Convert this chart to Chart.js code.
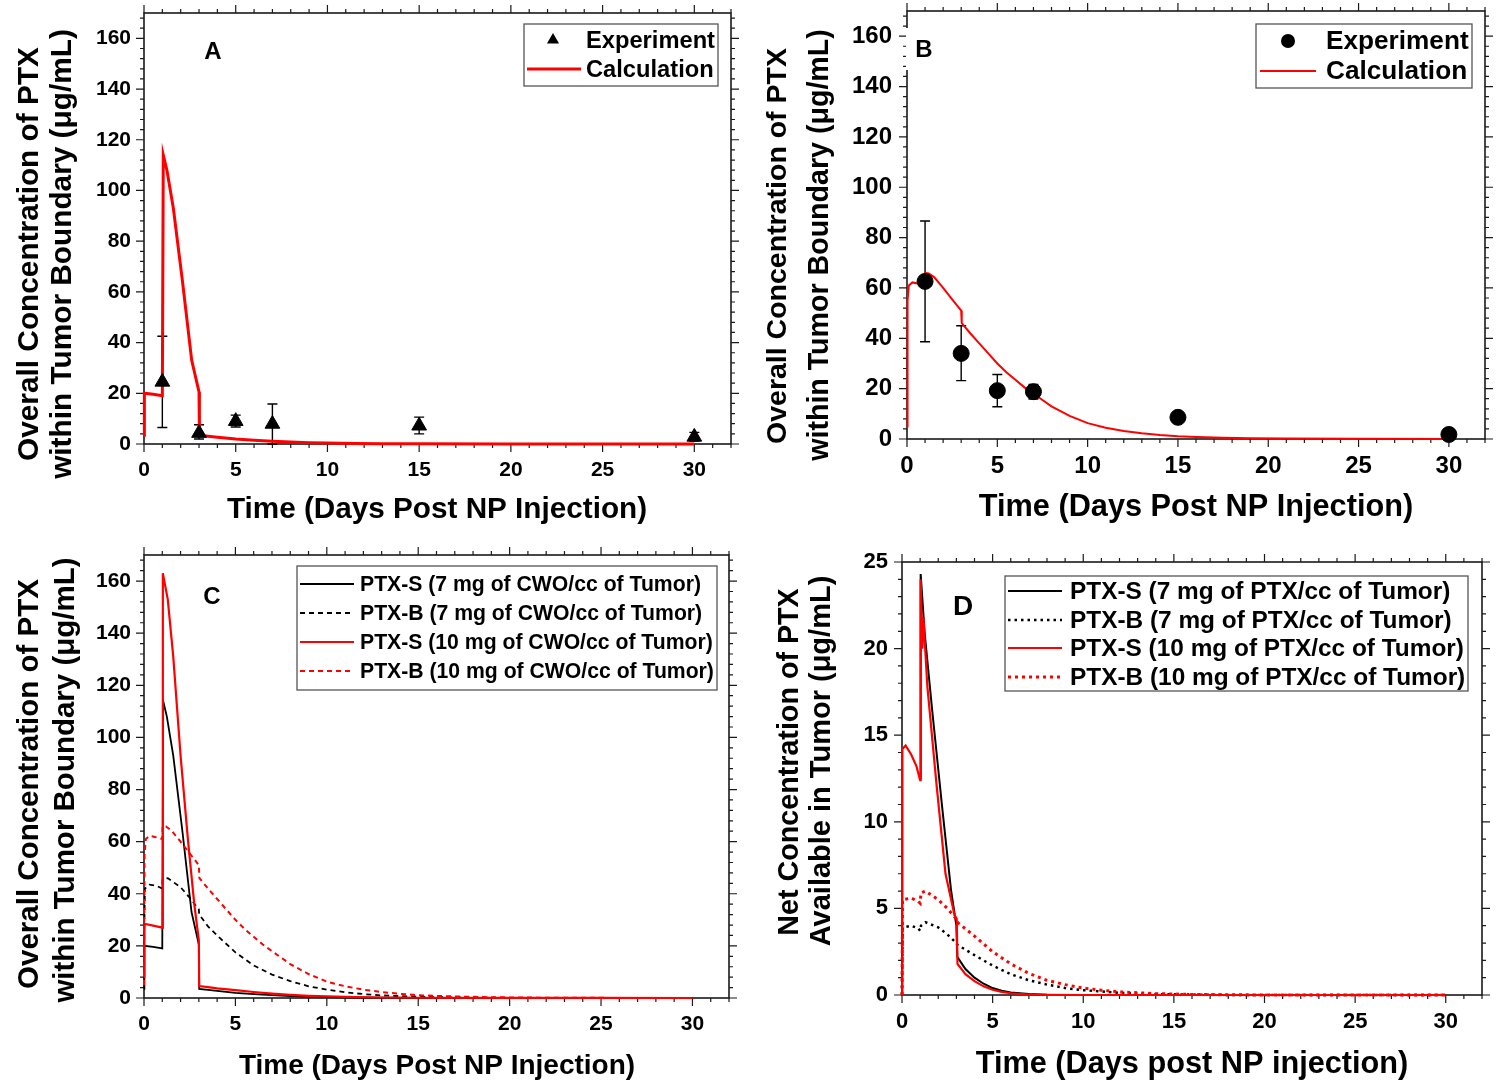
<!DOCTYPE html>
<html lang="en">

<head>
    <meta charset="UTF-8">
    <title>PTX concentration in tumor</title>
    <script src="https://cdn.jsdelivr.net/npm/chart.js"></script>
    <style>
        body { margin: 0; background: #fff; width: 1500px; height: 1088px; position: relative; overflow: hidden; }
        .panel { position: absolute; }
    </style>
</head>

<body>
    <div class="panel" style="left:0;top:0"><canvas id="chartA" width="750" height="540"></canvas></div>
    <div class="panel" style="left:750px;top:0"><canvas id="chartB" width="750" height="540"></canvas></div>
    <div class="panel" style="left:0;top:540px"><canvas id="chartC" width="750" height="548"></canvas></div>
    <div class="panel" style="left:750px;top:540px"><canvas id="chartD" width="750" height="548"></canvas></div>
    <script>
        const FONT = '"Liberation Sans", Arial, Helvetica, sans-serif';

        // measured points (days post injection)
        const expDays = [1, 3, 5, 7, 15, 30];

        // panel A - triangles with error bar ends
        const expA = [24.5, 4.3, 9.0, 7.9, 7.2, 2.8];
        const expALow = [6.5, 2.0, 6.7, 0.0, 4.0, 1.2];
        const expAHigh = [42.5, 7.6, 11.4, 15.8, 10.6, 4.6];

        // panel B - circles with error bar ends
        const expB = [62.6, 34.0, 19.2, 18.8, 8.6, 1.8];
        const expBLow = [38.6, 23.2, 12.8, 15.9, null, null];
        const expBHigh = [86.6, 45.0, 25.6, 21.7, null, null];

        // PTX-S, 7 mg CWO/cc (A calculation, C black solid)
        const ptxS7Days = [0, 0.02, 0.5, 1.0, 1.05, 1.25, 1.6, 2.1, 2.6, 3.0, 3.02, 3.5, 4, 5, 6, 7, 8, 9, 10, 11.5, 13, 15, 20, 25, 30];
        const ptxS7Conc = [3.5, 20, 19.6, 19, 114, 108, 93, 64, 33, 20.5, 3.5, 3.1, 2.7, 2.0, 1.5, 1.1, 0.75, 0.5, 0.35, 0.2, 0.12, 0.06, 0.02, 0.01, 0];

        // PTX-S, 10 mg CWO/cc (C red solid)
        const ptxS10Days = [0, 0.02, 0.5, 1.0, 1.03, 1.3, 1.6, 2.0, 2.4, 2.75, 3.0, 3.02, 3.5, 4, 5, 6, 7, 8, 9, 10, 11.5, 13, 15, 20, 25, 30];
        const ptxS10Conc = [8, 28.5, 27.8, 27, 163, 153, 131, 93, 61, 36, 22, 4.6, 4.2, 3.7, 3.0, 2.3, 1.7, 1.2, 0.85, 0.6, 0.35, 0.2, 0.1, 0.03, 0.01, 0];

        // PTX-B, 7 mg CWO/cc (C black dashed)
        const ptxB7Days = [0, 0.05, 0.3, 0.7, 1.0, 1.02, 1.3, 2.0, 2.5, 3.0, 3.02, 3.5, 4, 5, 6, 7, 8, 9, 10, 11, 12, 13, 15, 17, 20, 25, 30];
        const ptxB7Conc = [20, 42, 43.5, 43, 42, 45.5, 46, 42.5, 38.5, 34, 32, 27.5, 24, 17.5, 12.5, 9, 6.5, 4.5, 3.2, 2.2, 1.5, 1.0, 0.5, 0.2, 0.05, 0.01, 0];

        // PTX-B, 10 mg CWO/cc (B calculation, C red dashed)
        const ptxB10Days = [0, 0.03, 0.1, 0.3, 0.6, 1.0, 1.02, 1.2, 1.5, 2.0, 2.5, 3.0, 3.03, 3.5, 4, 4.5, 5, 5.5, 6, 6.5, 7, 7.5, 8, 9, 10, 11, 12, 13, 14, 15, 16, 17.5, 19, 21, 25, 30];
        const ptxB10Conc = [5, 55, 61, 62.2, 61.8, 61, 66, 65.8, 64.3, 60, 55.5, 51, 46, 42, 38, 34, 30, 26.5, 23.5, 20.5, 18, 15.5, 13, 9.2, 6.3, 4.5, 3.2, 2.3, 1.6, 1.1, 0.8, 0.5, 0.3, 0.15, 0.05, 0];

        // panel D - net concentration available in tumor
        const netS7Days = [1.0, 1.03, 1.25, 1.65, 2.2, 2.7, 3.0, 3.05, 3.5, 4, 4.5, 5, 5.5, 6, 7, 8, 10, 15, 20, 30];
        const netS7Conc = [12.5, 24.3, 20.9, 16.6, 11.0, 6.1, 4.0, 2.2, 1.5, 1.0, 0.65, 0.4, 0.25, 0.15, 0.06, 0.02, 0, 0, 0, 0];

        const netS10Days = [0, 0.02, 0.2, 0.5, 0.8, 1.0, 1.03, 1.12, 1.18, 1.4, 1.9, 2.4, 2.9, 3.02, 3.06, 3.5, 4, 4.5, 5, 5.5, 6, 7, 8, 10, 15, 20, 30];
        const netS10Conc = [0, 14.2, 14.4, 13.9, 13.2, 12.4, 24.0, 20.0, 21.8, 17.8, 12.2, 7.0, 4.6, 4.4, 1.8, 1.2, 0.8, 0.5, 0.3, 0.18, 0.1, 0.03, 0.01, 0, 0, 0, 0];

        const netB7Days = [0, 0.03, 0.5, 0.9, 1.0, 1.05, 1.3, 2.0, 2.5, 3.0, 3.05, 4, 5, 6, 7, 8, 9, 10, 11, 12, 14, 17, 20, 30];
        const netB7Conc = [0, 3.9, 4.0, 3.85, 3.7, 4.0, 4.2, 3.9, 3.5, 3.0, 2.9, 2.3, 1.7, 1.2, 0.85, 0.6, 0.4, 0.28, 0.2, 0.12, 0.05, 0.01, 0, 0];

        const netB10Days = [0, 0.03, 0.5, 0.9, 1.0, 1.05, 1.3, 2.0, 2.5, 3.0, 3.05, 4, 5, 6, 7, 8, 9, 10, 11, 12, 14, 16, 20, 30];
        const netB10Conc = [0, 5.5, 5.6, 5.4, 5.3, 5.9, 6.0, 5.5, 5.0, 4.4, 4.2, 3.4, 2.5, 1.8, 1.25, 0.85, 0.6, 0.4, 0.28, 0.18, 0.08, 0.03, 0, 0];

        // decoration for each panel: frame ticks, titles, letter, legend box
        const deco = {
            chartA: {
                xMinor: 1, xMajor: 5, yMinor: 4, yMajor: 20,
                letter: { text: 'A', x: 213, y: 52, size: 24 },
                yTitle: [
                    { text: 'Overall Concentration of PTX', x: 30, y: 254, size: 29.8 },
                    { text: 'within Tumor Boundary (μg/mL)', x: 63, y: 254, size: 29.8 }
                ],
                xTitle: { text: 'Time (Days Post NP Injection)', x: 437, y: 510, size: 29.7 },
                legend: {
                    box: [524, 24, 718, 86], size: 23.7, textX: 586,
                    rows: [{ ds: 0, y: 40, marker: 'triangle', mx: 553, r: 7 }, { ds: 1, y: 69, x1: 527, x2: 581 }]
                }
            },
            chartB: {
                xMinor: 1, xMajor: 5, yMinor: 4, yMajor: 20,
                letter: { text: 'B', x: 174, y: 50, size: 24, clearAxis: true },
                yTitle: [
                    { text: 'Overall Concentration of PTX', x: 28, y: 246, size: 28.5 },
                    { text: 'within Tumor Boundary (μg/mL)', x: 70, y: 245, size: 28.6 }
                ],
                xTitle: { text: 'Time (Days Post NP Injection)', x: 446, y: 508, size: 30.7 },
                legend: {
                    box: [506, 24, 722, 88], size: 26.2, textX: 576,
                    rows: [{ ds: 0, y: 41, marker: 'circle', mx: 538, r: 7 }, { ds: 1, y: 71, x1: 510, x2: 566 }]
                }
            },
            chartC: {
                xMinor: 1, xMajor: 5, yMinor: 4, yMajor: 20,
                letter: { text: 'C', x: 212, y: 57, size: 24 },
                yTitle: [
                    { text: 'Overall Concentration of PTX', x: 30, y: 244, size: 29.5 },
                    { text: 'within Tumor Boundary (μg/mL)', x: 66, y: 240, size: 29.5 }
                ],
                xTitle: { text: 'Time (Days Post NP Injection)', x: 437, y: 526, size: 28 },
                legend: {
                    box: [297, 26, 717, 150], size: 21.2, textX: 360,
                    rows: [
                        { ds: 3, y: 44, x1: 300, x2: 354 },
                        { ds: 2, y: 73, x1: 300, x2: 354 },
                        { ds: 1, y: 102, x1: 300, x2: 354 },
                        { ds: 0, y: 131, x1: 300, x2: 354 }
                    ]
                }
            },
            chartD: {
                xMinor: 1, xMajor: 5, yMinor: 1, yMajor: 5,
                letter: { text: 'D', x: 213, y: 67, size: 28 },
                yTitle: [
                    { text: 'Net Concentration of PTX', x: 40, y: 222, size: 28.7 },
                    { text: 'Available in Tumor (μg/mL)', x: 72, y: 221, size: 29 }
                ],
                xTitle: { text: 'Time (Days post NP injection)', x: 442, y: 525, size: 30.7 },
                legend: {
                    box: [255, 36, 718, 151], size: 24.4, textX: 320,
                    rows: [
                        { ds: 3, y: 51, x1: 258, x2: 312 },
                        { ds: 2, y: 80, x1: 258, x2: 312 },
                        { ds: 1, y: 108, x1: 258, x2: 312 },
                        { ds: 0, y: 137, x1: 258, x2: 312 }
                    ]
                }
            }
        };

        function markerPath(ctx, style, x, y, r) {
            ctx.beginPath();
            if (style === 'triangle') {
                let rad = 0;
                ctx.moveTo(x + Math.sin(rad) * r, y - Math.cos(rad) * r);
                rad += Math.PI * 2 / 3;
                ctx.lineTo(x + Math.sin(rad) * r, y - Math.cos(rad) * r);
                rad += Math.PI * 2 / 3;
                ctx.lineTo(x + Math.sin(rad) * r, y - Math.cos(rad) * r);
                ctx.closePath();
            } else {
                ctx.arc(x, y, r, 0, Math.PI * 2);
            }
        }

        function drawFrame(chart, d) {
            const { ctx, chartArea: a, scales: { x, y } } = chart;
            ctx.save();
            ctx.strokeStyle = '#1a1a1a';
            ctx.lineWidth = 1.6;
            ctx.strokeRect(a.left, a.top, a.right - a.left, a.bottom - a.top);
            ctx.lineWidth = 1.2;
            ctx.beginPath();
            for (let i = 0; i * d.xMinor <= x.max + 1e-9; i++) {
                const v = i * d.xMinor;
                const px = x.getPixelForValue(v);
                const len = v % d.xMajor === 0 ? 8 : 4;
                ctx.moveTo(px, a.bottom); ctx.lineTo(px, a.bottom + len);
                ctx.moveTo(px, a.top); ctx.lineTo(px, a.top - len);
            }
            for (let i = 0; i * d.yMinor <= y.max + 1e-9; i++) {
                const v = i * d.yMinor;
                const py = y.getPixelForValue(v);
                const len = v % d.yMajor === 0 ? 8 : 4;
                ctx.moveTo(a.left, py); ctx.lineTo(a.left - len, py);
                ctx.moveTo(a.right, py); ctx.lineTo(a.right + len, py);
            }
            ctx.stroke();
            ctx.restore();
        }

        function drawErrorBars(chart) {
            const { ctx, scales: { x, y } } = chart;
            chart.data.datasets.forEach(ds => {
                if (!ds.errLow) return;
                ctx.save();
                ctx.strokeStyle = '#000';
                ctx.lineWidth = 1.4;
                ctx.beginPath();
                ds.data.forEach((pt, j) => {
                    if (ds.errLow[j] == null) return;
                    const px = x.getPixelForValue(pt.x);
                    const lo = y.getPixelForValue(ds.errLow[j]);
                    const hi = y.getPixelForValue(ds.errHigh[j]);
                    ctx.moveTo(px, lo); ctx.lineTo(px, hi);
                    ctx.moveTo(px - 5, lo); ctx.lineTo(px + 5, lo);
                    ctx.moveTo(px - 5, hi); ctx.lineTo(px + 5, hi);
                });
                ctx.stroke();
                ctx.restore();
            });
        }

        function drawLetter(chart, l) {
            const ctx = chart.ctx;
            ctx.save();
            ctx.font = `bold ${l.size}px ${FONT}`;
            if (l.clearAxis) {
                // the figure has a white patch over the left axis behind the letter
                ctx.fillStyle = '#fff';
                ctx.fillRect(chart.chartArea.left - 1, l.y - 22, 36, 42);
            }
            ctx.fillStyle = '#000';
            ctx.textAlign = 'center';
            ctx.textBaseline = 'middle';
            ctx.fillText(l.text, l.x, l.y);
            ctx.restore();
        }

        function drawTitles(chart, d) {
            const ctx = chart.ctx;
            ctx.save();
            ctx.fillStyle = '#000';
            ctx.textAlign = 'center';
            ctx.textBaseline = 'middle';
            d.yTitle.forEach(t => {
                ctx.save();
                ctx.font = `bold ${t.size}px ${FONT}`;
                ctx.translate(t.x, t.y);
                ctx.rotate(-Math.PI / 2);
                ctx.fillText(t.text, 0, 0);
                ctx.restore();
            });
            ctx.font = `bold ${d.xTitle.size}px ${FONT}`;
            ctx.fillText(d.xTitle.text, d.xTitle.x, d.xTitle.y);
            ctx.restore();
        }

        function drawLegend(chart, lg) {
            const ctx = chart.ctx;
            const [x1, y1, x2, y2] = lg.box;
            ctx.save();
            ctx.fillStyle = '#fff';
            ctx.fillRect(x1, y1, x2 - x1, y2 - y1);
            ctx.strokeStyle = '#555';
            ctx.lineWidth = 1.3;
            ctx.strokeRect(x1, y1, x2 - x1, y2 - y1);
            lg.rows.forEach(row => {
                const ds = chart.data.datasets[row.ds];
                if (row.marker) {
                    markerPath(ctx, row.marker, row.mx, row.y, row.r);
                    ctx.fillStyle = '#000';
                    ctx.fill();
                } else {
                    ctx.save();
                    ctx.strokeStyle = ds.borderColor;
                    ctx.lineWidth = ds.borderWidth;
                    ctx.setLineDash(ds.borderDash || []);
                    ctx.beginPath();
                    ctx.moveTo(row.x1, row.y);
                    ctx.lineTo(row.x2, row.y);
                    ctx.stroke();
                    ctx.restore();
                }
                ctx.fillStyle = '#000';
                ctx.font = `bold ${lg.size}px ${FONT}`;
                ctx.textAlign = 'left';
                ctx.textBaseline = 'middle';
                ctx.fillText(ds.label, lg.textX, row.y + 1);
            });
            ctx.restore();
        }

        const decoPlugin = {
            id: 'panelDeco',
            beforeDatasetsDraw(chart) {
                const d = deco[chart.canvas.id];
                drawFrame(chart, d);
                drawLetter(chart, d.letter);
                drawErrorBars(chart);
            },
            afterDraw(chart) {
                const d = deco[chart.canvas.id];
                drawTitles(chart, d);
                drawLegend(chart, d.legend);
            }
        };

        function curve(label, days, conc, color, width, dash) {
            return {
                label: label,
                data: days.map((d, i) => ({ x: d, y: conc[i] })),
                showLine: true,
                borderColor: color,
                borderWidth: width,
                borderDash: dash || [],
                pointRadius: 0,
                tension: 0,
                clip: false
            };
        }

        function points(label, days, conc, low, high, style, radius) {
            return {
                label: label,
                data: days.map((d, i) => ({ x: d, y: conc[i] })),
                errLow: low,
                errHigh: high,
                showLine: false,
                pointStyle: style,
                pointRadius: radius,
                pointBackgroundColor: '#000',
                pointBorderColor: '#000',
                pointBorderWidth: 1,
                clip: false
            };
        }

        function buildChart(id, p, datasets) {
            const tickFont = { family: FONT, size: p.tickSize, weight: 'bold' };
            return new Chart(document.getElementById(id), {
                type: 'scatter',
                data: { datasets: datasets },
                options: {
                    responsive: false,
                    animation: false,
                    events: [],
                    layout: { padding: { left: 0, top: p.top, right: p.right, bottom: 0 } },
                    plugins: { legend: { display: false }, tooltip: { enabled: false } },
                    scales: {
                        x: {
                            type: 'linear', min: 0, max: 32,
                            afterFit: s => { s.height = p.xHeight; s.paddingLeft = 0; s.paddingRight = 0; },
                            grid: { display: false, drawTicks: false },
                            border: { display: false },
                            ticks: {
                                stepSize: 5, includeBounds: false, autoSkip: false, maxRotation: 0,
                                padding: p.xPad, color: '#000', font: tickFont
                            }
                        },
                        y: {
                            type: 'linear', min: 0, max: p.yMax,
                            afterFit: s => { s.width = p.yWidth; s.paddingTop = 0; s.paddingBottom = 0; },
                            grid: { display: false, drawTicks: false },
                            border: { display: false },
                            ticks: {
                                stepSize: p.yStep, includeBounds: false, autoSkip: false,
                                padding: p.yPad, color: '#000', font: tickFont
                            }
                        }
                    }
                },
                plugins: [decoPlugin]
            });
        }

        buildChart('chartA', { top: 13, right: 19, yWidth: 144, xHeight: 96, yMax: 170, yStep: 20, tickSize: 21, xPad: 14, yPad: 13 }, [
            points('Experiment', expDays, expA, expALow, expAHigh, 'triangle', 8.5),
            curve('Calculation', ptxS7Days, ptxS7Conc, '#ff0000', 3)
        ]);

        buildChart('chartB', { top: 11, right: 15, yWidth: 157, xHeight: 101, yMax: 170, yStep: 20, tickSize: 24, xPad: 13, yPad: 15 }, [
            points('Experiment', expDays, expB, expBLow, expBHigh, 'circle', 8),
            curve('Calculation', ptxB10Days, ptxB10Conc, '#ff0000', 2)
        ]);

        buildChart('chartC', { top: 15, right: 21, yWidth: 144, xHeight: 90, yMax: 170, yStep: 20, tickSize: 21, xPad: 14, yPad: 13 }, [
            curve('PTX-B (10 mg of CWO/cc of Tumor)', ptxB10Days, ptxB10Conc, '#ff0000', 2, [5, 4]),
            curve('PTX-S (10 mg of CWO/cc of Tumor)', ptxS10Days, ptxS10Conc, '#ff0000', 2.2),
            curve('PTX-B (7 mg of CWO/cc of Tumor)', ptxB7Days, ptxB7Conc, '#000000', 1.8, [5, 4]),
            curve('PTX-S (7 mg of CWO/cc of Tumor)', ptxS7Days, ptxS7Conc, '#000000', 1.8)
        ]);

        buildChart('chartD', { top: 22, right: 18, yWidth: 152, xHeight: 93, yMax: 25, yStep: 5, tickSize: 22, xPad: 14, yPad: 14 }, [
            curve('PTX-B (10 mg of PTX/cc of Tumor)', netB10Days, netB10Conc, '#ff0000', 3, [3, 4]),
            curve('PTX-S (10 mg of PTX/cc of Tumor)', netS10Days, netS10Conc, '#ff0000', 2.2),
            curve('PTX-B (7 mg of PTX/cc of Tumor)', netB7Days, netB7Conc, '#000000', 2.5, [2.5, 4]),
            curve('PTX-S (7 mg of PTX/cc of Tumor)', netS7Days, netS7Conc, '#000000', 2)
        ]);
    </script>
</body>

</html>
